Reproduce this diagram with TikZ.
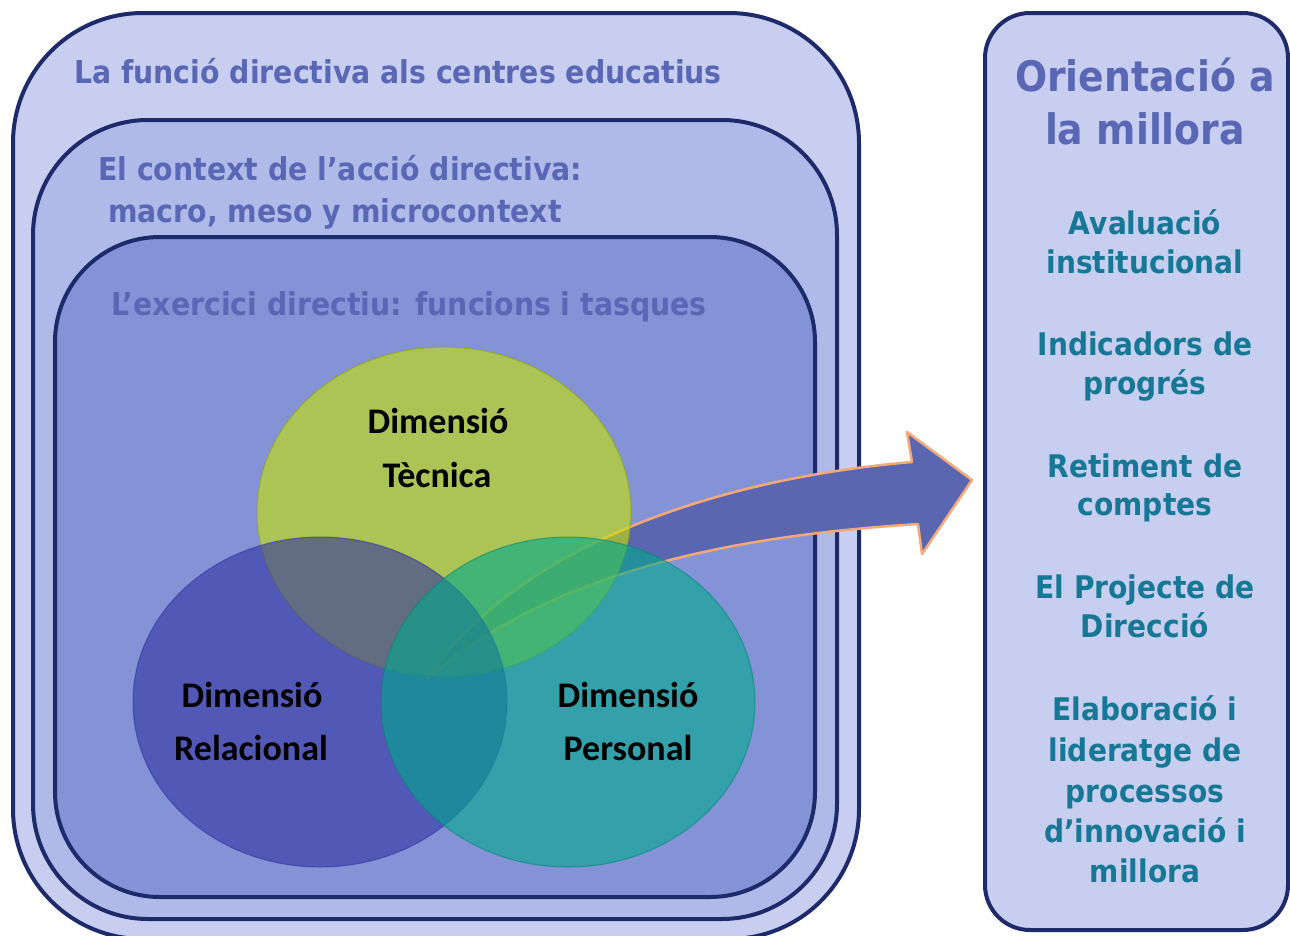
\documentclass[tikz,border=0pt]{standalone}
\usepackage{fontspec}
\usetikzlibrary{shapes.geometric}
\newfontfamily\tahoma[FakeStretch=0.9]{DejaVu Sans}
\newfontfamily\calib{Carlito}
\definecolor{navy}{HTML}{1E2A6A}
\definecolor{slate}{HTML}{5A67B5}
\definecolor{tealtxt}{HTML}{177896}
\definecolor{fillA}{HTML}{C8CEF0}
\definecolor{fillB}{HTML}{B0BAE8}
\definecolor{fillC}{HTML}{8393D6}
\definecolor{arrowfill}{HTML}{5A66B0}
\definecolor{arrowedge}{HTML}{F5A878}
\definecolor{cgreen}{RGB}{200,228,0}
\definecolor{cblue}{RGB}{50,50,160}
\definecolor{cteal}{RGB}{0,169,141}
\tikzset{
  frame/.style={draw=navy, line width=4pt, rectangle, inner sep=0pt},
  venn/.style={ellipse, minimum width=374pt, minimum height=330pt, inner sep=0pt, opacity=0.6, line width=1pt},
  hdr/.style={inner sep=0pt, text=slate, font=\tahoma\bfseries\fontsize{31.5}{36}\selectfont},
  big/.style={inner sep=0pt, text=slate, font=\tahoma\bfseries\fontsize{42}{50}\selectfont},
  item/.style={inner sep=0pt, text=tealtxt, font=\tahoma\bfseries\fontsize{31.2}{36}\selectfont},
  dim/.style={inner sep=0pt, text=black, font=\calib\bfseries\fontsize{36}{44}\selectfont},
  bigarrow/.style={fill=arrowfill, draw=arrowedge, line width=2.5pt, line join=round}
}
\begin{document}
\begin{tikzpicture}[x=1pt,y=-1pt]
\useasboundingbox (0,0) rectangle (1290,935);
\clip (0,0) rectangle (1290,935);
% frames
\node[frame, fill=fillA, rounded corners=130pt, minimum width=846pt, minimum height=926pt] (outer) at (436,476) {};
\node[frame, fill=fillB, rounded corners=115pt, minimum width=804pt, minimum height=799pt] (middle) at (435,519.5) {};
\node[frame, fill=fillC, rounded corners=105pt, minimum width=760pt, minimum height=660pt] (inner) at (435,567) {};
\node[frame, fill=fillA, rounded corners=45pt, minimum width=303pt, minimum height=917pt] (right) at (1136.5,471.5) {};
% headings
\node[hdr, anchor=base] (t1) at (398,83) {La funció directiva als centres educatius};
\node[hdr, anchor=base west] (t2) at (98,180) {El context de l’acció directiva:};
\node[hdr, anchor=base west] (t3) at (108,222) {macro, meso y microcontext};
\node[hdr, anchor=base] (t4) at (409,315) {L’exercici directiu: funcions i tasques};
% arrow
\path[bigarrow] (428,678) .. controls (510,555) and (700,480) .. (912,462)
  -- (907,432) -- (972,480) -- (922,554) -- (918,524)
  .. controls (750,535) and (560,565) .. (428,678) -- cycle;
% venn circles
\node[venn, fill=cgreen, draw=cgreen!70!black] (tec) at (444,512) {};
\node[venn, fill=cblue, draw=cblue] (rel) at (320,702) {};
\node[venn, fill=cteal, draw=cteal!80!black] (per) at (568,702) {};
\node[dim, anchor=base] (d1) at (438,433) {Dimensió};
\node[dim, anchor=base] (d2) at (437,487) {Tècnica};
\node[dim, anchor=base] (d3) at (252,707) {Dimensió};
\node[dim, anchor=base] (d4) at (251,760) {Relacional};
\node[dim, anchor=base] (d5) at (628,707) {Dimensió};
\node[dim, anchor=base] (d6) at (628,760) {Personal};
% right column
\node[big, anchor=base] (o1) at (1145,91) {Orientació a};
\node[big, anchor=base] (o2) at (1145,144) {la millora};
\node[item, anchor=base] (r1) at (1145,234) {Avaluació};
\node[item, anchor=base] (r2) at (1145,273) {institucional};
\node[item, anchor=base] (r3) at (1145,355) {Indicadors de};
\node[item, anchor=base] (r4) at (1145,394) {progrés};
\node[item, anchor=base] (r5) at (1145,477) {Retiment de};
\node[item, anchor=base] (r6) at (1145,515) {comptes};
\node[item, anchor=base] (r7) at (1145,598) {El Projecte de};
\node[item, anchor=base] (r8) at (1145,637) {Direcció};
\node[item, anchor=base] (r9) at (1145,720) {Elaboració i};
\node[item, anchor=base] (r10) at (1145,761) {lideratge de};
\node[item, anchor=base] (r11) at (1145,802) {processos};
\node[item, anchor=base] (r12) at (1145,842) {d’innovació i};
\node[item, anchor=base] (r13) at (1145,882) {millora};
\end{tikzpicture}
\end{document}
